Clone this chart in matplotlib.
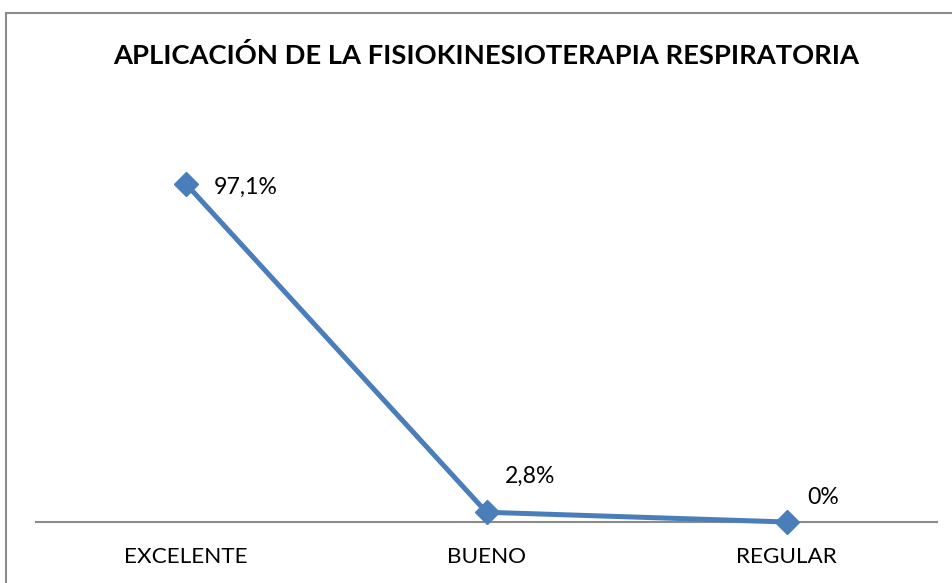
import matplotlib
matplotlib.use("Agg")
import matplotlib.pyplot as plt
from matplotlib.patches import Rectangle

categories = ["EXCELENTE", "BUENO", "REGULAR"]
values = [97.1, 2.8, 0.0]
labels = ["97,1%", "2,8%", "0%"]
title = "APLICACIÓN DE LA FISIOKINESIOTERAPIA RESPIRATORIA"

plt.rcParams['font.family'] = ['Lato', 'DejaVu Sans']

W, H = 952, 583
fig = plt.figure(figsize=(W/100, H/100), dpi=100)
fig.patch.set_facecolor("white")

# outer border (extends past right/bottom)
fig.add_artist(Rectangle((6/W, -0.1), 1.2, (H-13)/H + 0.1, transform=fig.transFigure,
                         fill=False, edgecolor="#8c8c8c", linewidth=1.5))

x0, x1 = 36, 937
ybot, ytop = 522, 174
ax = fig.add_axes([x0/W, (H-ybot)/H, (x1-x0)/W, (ybot-ytop)/H])
ax.set_xlim(-0.5, 2.5)
ax.set_ylim(0, 100)
for s in ["top", "right", "left"]:
    ax.spines[s].set_visible(False)
ax.spines["bottom"].set_color("#8c8c8c")
ax.spines["bottom"].set_linewidth(1.5)
ax.set_yticks([])
ax.set_xticks(range(len(categories)))
ax.set_xticklabels(categories, fontsize=16.2)
ax.tick_params(axis="x", length=0, pad=18)
ax.set_facecolor("none")

xs = list(range(len(categories)))
ax.plot(xs, values, color="#4A7EBB", linewidth=3.6, marker="D", markersize=12.5,
        clip_on=False, zorder=3)

offsets = [(28, -3), (44, 36), (36, 25)]
for x, v, lab, (dx, dy) in zip(xs, values, labels, offsets):
    ax.annotate(lab, (x, v), xytext=(dx, dy), textcoords="offset pixels",
                fontsize=16.6, ha="left" if x == 0 else "center", va="center")

fig.text(486/W, 1 - 55/H, title, fontsize=19.7, fontweight="bold",
         ha="center", va="center")

fig.savefig("out.png", dpi=100)
